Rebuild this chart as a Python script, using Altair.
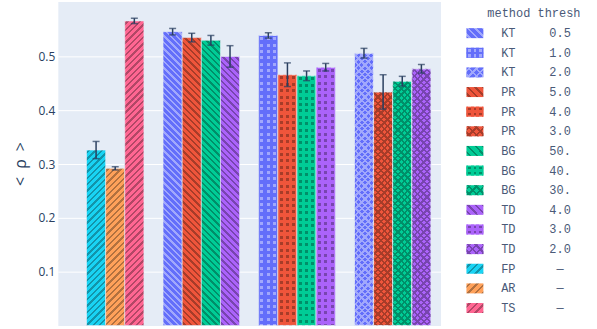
import altair as alt
import pandas as pd

# x categories: the baselines first, then three threshold tiers
groups = ["baseline", "tier 1", "tier 2", "tier 3"]

# thresholded methods, one bar per tier
methods = ["KT", "PR", "BG", "TD"]
method_colors = ["#636EFA", "#EF553B", "#00CC96", "#AB63FA"]
thresholds = {
    "KT": ["0.5", "1.0", "2.0"],
    "PR": ["5.0", "4.0", "3.0"],
    "BG": ["50.", "40.", "30."],
    "TD": ["4.0", "3.0", "2.0"],
}
means = {
    "KT": [0.546, 0.539, 0.506],
    "PR": [0.535, 0.466, 0.434],
    "BG": [0.530, 0.464, 0.454],
    "TD": [0.500, 0.480, 0.477],
}
errors = {
    "KT": [0.006, 0.005, 0.009],
    "PR": [0.008, 0.022, 0.032],
    "BG": [0.009, 0.009, 0.009],
    "TD": [0.020, 0.007, 0.008],
}
tier_patterns = ["\\", ".", "x"]

# baselines without a threshold
base_methods = ["FP", "AR", "TS"]
base_colors = ["#19D3F3", "#FFA15A", "#FF6692"]
base_means = [0.326, 0.292, 0.566]
base_errors = [0.016, 0.003, 0.005]

TEXT = "#2a3f5f"
LEGEND_TEXT = "#4a5a78"
PLOT_BG = "#E5ECF6"
CLEAR = "rgba(0,0,0,0)"
MONO = "Liberation Mono, Courier New, monospace"

PLOT_W, PLOT_H, Y_TOP = 384, 325, 0.602
BAR_W = PLOT_W / (4 - 0.2 + 2 * 0.1) * (1 - 0.2) / 4


def mix(hex_color, target, amount):
    r, g, b = (int(hex_color[i:i + 2], 16) for i in (1, 3, 5))
    t = 255 if target == "white" else 0
    r, g, b = (round(c + (t - c) * amount) for c in (r, g, b))
    return f"#{r:02x}{g:02x}{b:02x}"


def pattern_ink(method, color):
    return mix(color, "white", 0.4) if method == "KT" else mix(color, "black", 0.3)


def band_stops(span, period, thick, phase, off, on):
    stripes = []
    m = -2
    while True:
        c = phase + m * period
        a, b = c - thick / 2, c + thick / 2
        if a > span:
            break
        if b > 0:
            stripes.append((a, b))
        m += 1

    def inside(u):
        return any(a <= u < b for a, b in stripes)

    stops = [(0.0, on if inside(0.0) else off)]
    for a, b in stripes:
        if 0 < a < span:
            stops += [(a, off), (a, on)]
        if 0 < b < span:
            stops += [(b, on), (b, off)]
    stops.append((span, on if inside(span - 1e-6) else off))
    return [{"offset": round(u / span, 5), "color": c} for u, c in stops]


def stripe_fill(kind, w, h, off, on, period, thick, phase):
    """Linear gradient (bounding-box units) that paints hard-edged stripes."""
    if kind in ("/", "\\"):
        k = (w + h) / (w * w + h * h)
        span = w + h
        if kind == "/":
            geo = dict(x1=0, y1=0, x2=k * w, y2=k * h)
        else:
            geo = dict(x1=0, y1=1, x2=k * w, y2=1 - k * h)
    elif kind == "h":
        span, geo = h, dict(x1=0, y1=0, x2=0, y2=1)
    else:
        span, geo = w, dict(x1=0, y1=0, x2=1, y2=0)
    return {"gradient": "linear", **geo,
            "stops": band_stops(span, period, thick, phase, off, on)}


def pattern_fills(pattern, w, h, color, ink, diag_period, diag_thick, dot_px, dot_py, dot):
    """Return (base fill, overlay fill or None) for one patterned rectangle."""
    if pattern in ("/", "\\"):
        return stripe_fill(pattern, w, h, color, ink, diag_period, diag_thick, diag_period / 2), None
    if pattern == "x":
        return (stripe_fill("/", w, h, color, ink, diag_period, diag_thick, diag_period / 2),
                stripe_fill("\\", w, h, CLEAR, ink, diag_period, diag_thick, diag_period / 2))
    # dots: ink rows, then a mask that only lets the ink through in narrow columns
    return (stripe_fill("h", w, h, color, ink, dot_py, dot, dot_py / 2),
            stripe_fill("v", w, h, color, CLEAR, dot_px, dot, dot_px / 2))


# ---- table of bars -------------------------------------------------------
rows = []
for i, (m, c, v, e) in enumerate(zip(base_methods, base_colors, base_means, base_errors)):
    rows.append(dict(key=m, group=groups[0], slot=i + 1, method=m, thresh="—",
                     mean=v, lo=v - e, hi=v + e, color=c, pattern="/"))
for tier in range(3):
    for s, (m, c) in enumerate(zip(methods, method_colors)):
        v, e = means[m][tier], errors[m][tier]
        rows.append(dict(key=f"{m}{thresholds[m][tier]}", group=groups[tier + 1], slot=s,
                         method=m, thresh=thresholds[m][tier], mean=v, lo=v - e, hi=v + e,
                         color=c, pattern=tier_patterns[tier]))
bars = pd.DataFrame(rows)

x_enc = alt.X("group:N", scale=alt.Scale(domain=groups, paddingInner=0.2, paddingOuter=0.1),
              axis=None)
xo_enc = alt.XOffset("slot:O", scale=alt.Scale(domain=[0, 1, 2, 3], paddingInner=0, paddingOuter=0))
y_axis = alt.Axis(values=[0.1, 0.2, 0.3, 0.4, 0.5], format=".1f", title="<\u2002ρ\u2002>",
                  grid=True, gridColor="white", gridWidth=1, domain=False, ticks=False,
                  labelFont="Open Sans", labelFontSize=12, labelColor=TEXT, labelPadding=3,
                  titleFont="Open Sans", titleFontSize=16, titleColor=TEXT,
                  titleFontWeight="normal", titlePadding=10)
y_scale = alt.Scale(domain=[0, Y_TOP], nice=False, zero=True)

layers = []
for r in rows:
    h = r["mean"] / Y_TOP * PLOT_H
    ink = pattern_ink(r["method"], r["color"])
    base_fill, over_fill = pattern_fills(r["pattern"], BAR_W, h, r["color"], ink,
                                         6.4, 2.4, BAR_W / 3, 6.4, 3.0)
    sel = bars[bars.key == r["key"]]
    for fill in (base_fill, over_fill):
        if fill is None:
            continue
        layers.append(
            alt.Chart(sel).mark_bar(fill=fill, stroke=PLOT_BG, strokeWidth=0.6).encode(
                x=x_enc, xOffset=xo_enc,
                y=alt.Y("mean:Q", scale=y_scale, axis=y_axis),
            )
        )

err_base = alt.Chart(bars)
layers.append(err_base.mark_rule(color=TEXT, strokeWidth=1.5).encode(
    x=x_enc, xOffset=xo_enc, y=alt.Y("lo:Q", scale=y_scale, axis=y_axis), y2="hi:Q"))
for f in ("lo", "hi"):
    layers.append(err_base.mark_tick(color=TEXT, thickness=1.5, size=7).encode(
        x=x_enc, xOffset=xo_enc, y=alt.Y(f"{f}:Q", scale=y_scale, axis=y_axis)))

main = alt.layer(*layers).properties(
    width=PLOT_W, height=PLOT_H,
    view=alt.ViewBackground(fill=PLOT_BG, stroke="transparent"),
)

# ---- legend panel ----------------------------------------------------------
legend_order = []
for m, c in zip(methods, method_colors):
    for tier in range(3):
        legend_order.append((m, thresholds[m][tier], c, tier_patterns[tier]))
for m, c in zip(base_methods, base_colors):
    legend_order.append((m, "—", c, "/"))
legend = pd.DataFrame([dict(row=i + 1, method=m, thresh=t, color=c, pattern=p)
                       for i, (m, t, c, p) in enumerate(legend_order)])
legend_title = pd.DataFrame([dict(row=0, label="method thresh")])

STEP = 19.7
ly = alt.Y("row:O", scale=alt.Scale(domain=list(range(16)), paddingInner=0.49, paddingOuter=0.354),
           axis=None)
SW_X0, SW_W, SW_H = 24, 17, 10

leg_layers = []
for _, r in legend.iterrows():
    ink = pattern_ink(r["method"], r["color"])
    base_fill, over_fill = pattern_fills(r["pattern"], SW_W, SW_H, r["color"], ink,
                                         7.5, 2.4, SW_W / 3, 5.0, 2.6)
    sel = legend[legend.row == r["row"]]
    for fill in (base_fill, over_fill):
        if fill is None:
            continue
        leg_layers.append(alt.Chart(sel).mark_rect(fill=fill).encode(
            y=ly, x=alt.value(SW_X0), x2=alt.value(SW_X0 + SW_W)))

leg_layers.append(alt.Chart(legend).mark_text(font=MONO, fontSize=12, color=LEGEND_TEXT,
                                              align="center", baseline="middle").encode(
    y=ly, x=alt.value(66), text="method:N"))
leg_layers.append(alt.Chart(legend).mark_text(font=MONO, fontSize=12, color=LEGEND_TEXT,
                                              align="center", baseline="middle").encode(
    y=ly, x=alt.value(118), text="thresh:N"))
leg_layers.append(alt.Chart(legend_title).mark_text(font=MONO, fontSize=12, color=LEGEND_TEXT,
                                                    align="left", baseline="middle").encode(
    y=ly, x=alt.value(45), text="label:N"))

legend_panel = alt.layer(*leg_layers).properties(
    width=154, height=STEP * (16 - 0.49 + 2 * 0.354),
)

chart = (
    alt.hconcat(main, legend_panel, spacing=0)
    .properties(padding={"left": 11, "top": 0, "right": 0, "bottom": 4}, background="white")
    .configure_view(stroke="transparent")
)

chart.save("out.html", embed_options={"renderer": "svg", "actions": False})
